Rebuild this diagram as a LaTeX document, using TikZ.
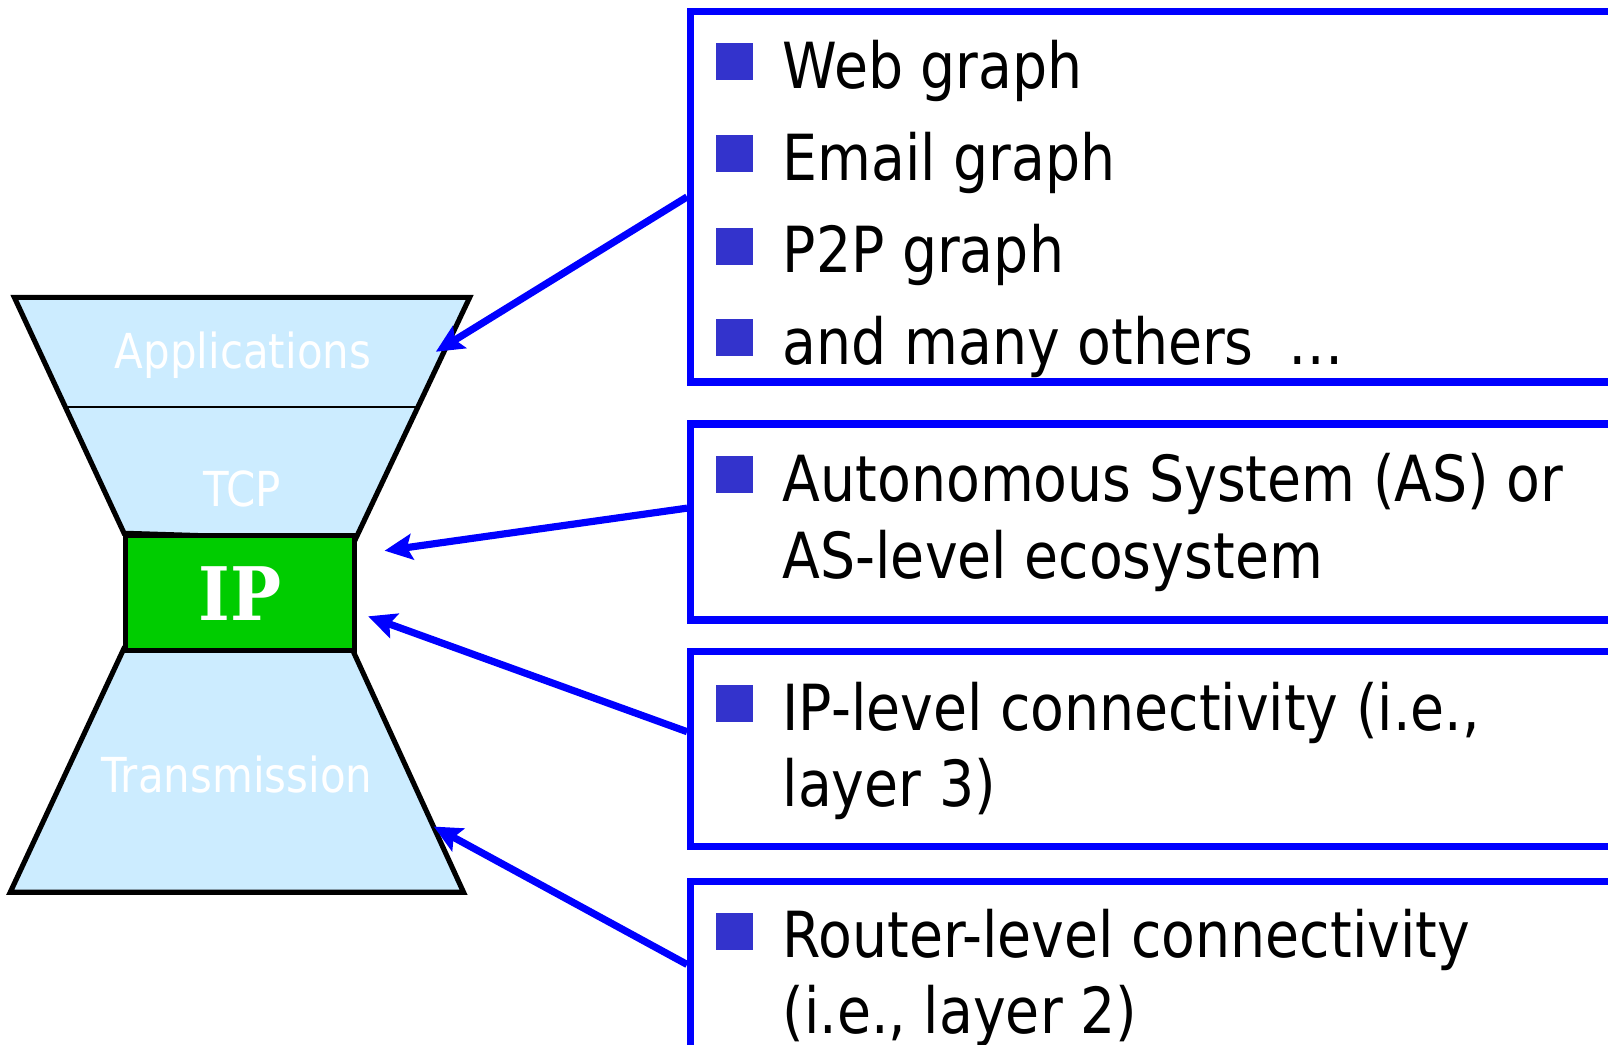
\documentclass[tikz,border=0pt]{standalone}
\usepackage{fontspec}
\setmainfont{DejaVu Sans}[FakeStretch=0.87]
\newfontfamily\ipfont{DejaVu Serif}[FakeStretch=0.92]
\usetikzlibrary{arrows.meta}
\definecolor{layerblue}{RGB}{204,236,255}
\definecolor{ipgreen}{RGB}{0,204,0}
\definecolor{linkblue}{RGB}{0,0,255}
\definecolor{bulletblue}{RGB}{51,51,204}
\begin{document}
\begin{tikzpicture}[x=1pt,y=-1pt,
  hull/.style={fill=layerblue, draw=black, line width=5pt, line join=miter},
  layerlabel/.style={text=white, anchor=base, inner sep=0, font=\fontsize{47}{47}\selectfont},
  listbox/.style={draw=linkblue, line width=7pt, anchor=north west, inner sep=0, minimum width=960pt},
  bullet/.style={fill=bulletblue, minimum size=36pt, inner sep=0},
  item/.style={anchor=base west, inner sep=0, font=\fontsize{62}{62}\selectfont},
  link/.style={draw=linkblue, line width=7pt, -{Stealth[length=27pt,width=25pt,inset=5pt]}}]

\useasboundingbox (0,0) rectangle (1568,1019);
\fill[white] (0,0) rectangle (1568,1019);

% hourglass of protocol layers
\draw[hull] (14,290) -- (458,290) -- (346,527) -- (121,520) -- cycle;
\draw[line width=1.5pt] (63,397) -- (407,397);
\draw[hull] (121,632) -- (343,632) -- (452,870) -- (10,870) -- cycle;
\node[draw=black, line width=5pt, fill=ipgreen, minimum width=223pt, minimum height=112pt,
      anchor=north west, inner sep=0, text=white,
      font=\ipfont\bfseries\fontsize{72}{72}\selectfont] (ip) at (120,520) {IP};

\node[layerlabel] (app) at (237,359) {Applications};
\node[layerlabel] (tcp) at (236,494) {TCP};
\node[layerlabel] (trans) at (231,773) {Transmission};

% graph families
\node[listbox, minimum height=361pt] (b1) at (670,8) {};
\node[listbox, minimum height=191pt] (b2) at (670,410) {};
\node[listbox, minimum height=190pt] (b3) at (670,632) {};
\node[listbox, minimum height=250pt] (b4) at (670,856) {};

\node[bullet] (s1) at (716,60) {};
\node[item] (w1) at (763,86) {Web graph};
\node[bullet] (s2) at (716,150) {};
\node[item] (w2) at (763,176) {Email graph};
\node[bullet] (s3) at (716,240) {};
\node[item] (w3) at (763,266) {P2P graph};
\node[bullet] (s4) at (716,329) {};
\node[item] (w4) at (763,355) {and many others\ \ …};

\node[bullet] (s5) at (716,463) {};
\node[item] (as1) at (763,489) {Autonomous System (AS) or};
\node[item] (as2) at (763,564) {AS-level ecosystem};

\node[bullet] (s6) at (716,686) {};
\node[item] (ipl1) at (763,712) {IP-level connectivity (i.e.,};
\node[item] (ipl2) at (763,786) {layer 3)};

\node[bullet] (s7) at (716,908) {};
\node[item] (rt1) at (763,934) {Router-level connectivity};
\node[item] (rt2) at (763,1008) {(i.e., layer 2)};

% arrows to the layers
\coordinate (t1) at (425,343);
\coordinate (t2) at (375,537);
\coordinate (t3) at (359,601);
\coordinate (t4) at (423,806);
\draw[link] (b1.west) -- (t1);
\draw[link] ([yshift=13.5pt]b2.west) -- (t2);
\draw[link] ([yshift=17pt]b3.west) -- (t3);
\draw[link] ([yshift=44pt]b4.west) -- (t4);
\end{tikzpicture}
\end{document}
